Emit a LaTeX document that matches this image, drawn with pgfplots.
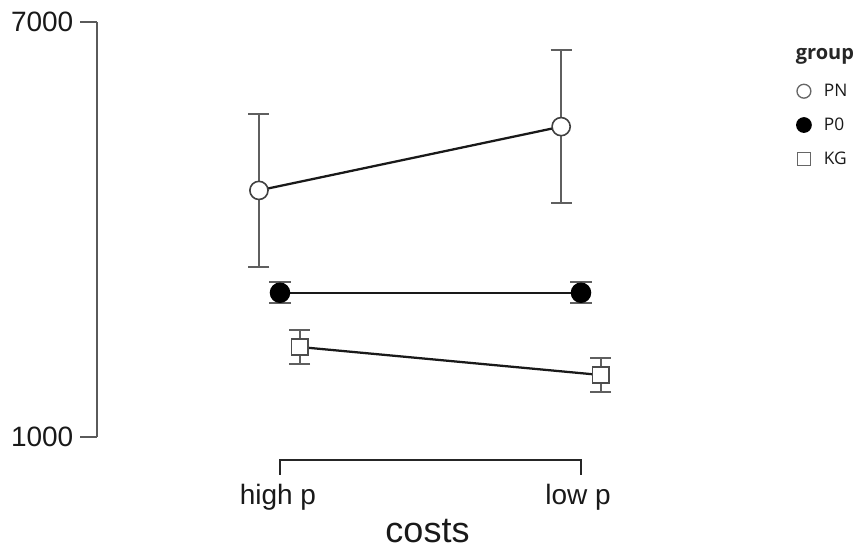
\documentclass[border=0pt]{standalone}
\usepackage{pgfplots}
\pgfplotsset{compat=1.18}
\usepackage{fontspec}
\setmainfont{Liberation Sans}
\newfontfamily\legfont{Open Sans}
\definecolor{errgray}{HTML}{5F5F5F}
\definecolor{axgray}{HTML}{5A5A5A}
\pgfplotstableread{
x y e
0.930 4565 1105
1.934 5487 1106
}\PN
\pgfplotstableread{
x y e
1.000 3085 150
2.000 3085 150
}\PO
\pgfplotstableread{
x y e
1.065 2301 246
2.065 1896 246
}\KG
\begin{document}
\begin{tikzpicture}
\begin{axis}[
 scale only axis, width=392.25pt, height=311.25pt,
 xmin=0.392, xmax=2.1295, ymin=1000, ymax=7000,
 axis x line=none, axis y line*=left,
 y axis line style={draw=axgray, line width=1.5pt, -},
 ytick={1000,7000}, yticklabels={1000,7000},
 tick align=outside, major tick length=12.75pt,
 ytick style={draw=axgray, line width=1.5pt},
 yticklabel style={font=\fontsize{21}{21}\selectfont, text=black!90, xshift=-1.5pt},
 clip=false,
 legend style={draw=none, fill=none, at={(rel axis cs:1.327,0.864)}, anchor=north west,
   font=\legfont\fontsize{13}{14}\selectfont, text=black!90, row sep=10.5pt},
 legend cell align=left,
 legend image code/.code={\path[draw=none,fill=none] (0pt,-3pt) (19.5pt,3pt); \draw[#1] plot coordinates {(6.5pt,0pt)};},
]
% error bars
\addplot[forget plot, draw=none, mark=none, error bars/.cd, y dir=both, y explicit,
  error bar style={draw=errgray, line width=1.6pt},
  error mark options={draw=errgray, rotate=90, mark size=7.9pt, line width=1.6pt}]
  table[x=x,y=y,y error=e] {\PN};
\addplot[forget plot, draw=none, mark=none, error bars/.cd, y dir=both, y explicit,
  error bar style={draw=errgray, line width=1.6pt},
  error mark options={draw=errgray, rotate=90, mark size=7.9pt, line width=1.6pt}]
  table[x=x,y=y,y error=e] {\PO};
\addplot[forget plot, draw=none, mark=none, error bars/.cd, y dir=both, y explicit,
  error bar style={draw=errgray, line width=1.6pt},
  error mark options={draw=errgray, rotate=90, mark size=7.9pt, line width=1.6pt}]
  table[x=x,y=y,y error=e] {\KG};
% lines and markers
\addplot[forget plot, black!90, line width=1.7pt, mark=*, mark size=6.8pt,
  mark options={fill=white, draw=black!75, line width=1.2pt}] table[x=x,y=y] {\PN};
\addplot[forget plot, black!90, line width=1.7pt, mark=*, mark size=7.1pt,
  mark options={fill=black, draw=black, line width=1.2pt}] table[x=x,y=y] {\PO};
\addplot[forget plot, black!90, line width=1.7pt, mark=square*, mark size=6.1pt,
  mark options={fill=white, draw=black!70, line width=1.2pt}] table[x=x,y=y] {\KG};
% legend
\addlegendimage{only marks, mark=*, mark size=5.2pt, mark options={fill=white, draw=black!60, line width=1pt}}
\addlegendentry{PN}
\addlegendimage{only marks, mark=*, mark size=5.4pt, mark options={fill=black, draw=black, line width=1pt}}
\addlegendentry{P0}
\addlegendimage{only marks, mark=square*, mark size=4.8pt, mark options={fill=white, draw=black!60, line width=1pt}}
\addlegendentry{KG}
\node[anchor=base west, font=\legfont\bfseries\fontsize{15}{15}\selectfont, text=black!85] at (axis cs:2.698,6451) {group};
% x axis bracket
\draw[line width=1.5pt, black!85] (axis cs:1,450.6) -- (axis cs:1,667) -- (axis cs:2,667) -- (axis cs:2,450.6);
\node[anchor=base, font=\fontsize{21}{21}\selectfont, text=black!90] at (axis cs:0.993,17) {high p};
\node[anchor=base, font=\fontsize{21}{21}\selectfont, text=black!90] at (axis cs:1.99,17) {low p};
\node[anchor=base, font=\fontsize{27}{27}\selectfont, text=black!90] at (axis cs:1.49,-533) {costs};
\coordinate (bl) at (rel axis cs:-0.1855,-0.2699);
\coordinate (tr) at (rel axis cs:1.4532,1.0530);
\end{axis}
\pgfresetboundingbox
\path (bl) rectangle (tr);
\end{tikzpicture}
\end{document}
